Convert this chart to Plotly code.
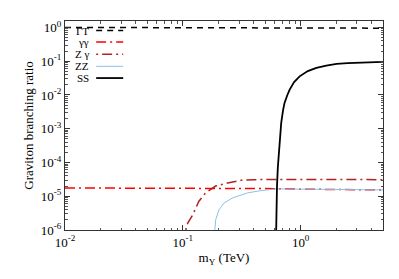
import plotly.graph_objects as go
import math

# ---- data ----
gt_x = [0.01, 0.1, 0.5, 1.0, 2.0, 5.0]
gt_y = [1.0, 1.0, 0.99, 0.97, 0.96, 0.95]

gg_x = [0.01, 0.1, 0.3, 0.6, 1.0, 2.0, 5.0]
gg_y = [1.76e-5, 1.76e-5, 1.74e-5, 1.68e-5, 1.62e-5, 1.58e-5, 1.54e-5]

zg_x = [0.106, 0.11, 0.12, 0.137, 0.156, 0.19, 0.24, 0.31, 0.4, 0.6, 1.0, 2.0, 5.0]
zg_y = [1e-6, 1.6e-6, 2.6e-6, 7.1e-6, 1.26e-5, 2.0e-5, 2.46e-5, 2.95e-5, 3.1e-5, 3.15e-5, 3.15e-5, 3.12e-5, 3.1e-5]

zz_x = [0.187, 0.19, 0.203, 0.224, 0.264, 0.355, 0.45, 0.62, 1.0, 2.0, 5.0]
zz_y = [1e-6, 2.0e-6, 4.0e-6, 6.3e-6, 8.9e-6, 1.26e-5, 1.45e-5, 1.65e-5, 1.62e-5, 1.58e-5, 1.54e-5]

ss_x = [0.62, 0.621, 0.63, 0.64, 0.66, 0.684, 0.71, 0.73, 0.77, 0.805, 0.88, 0.98, 1.15, 1.36, 1.65, 2.02, 2.5, 3.19, 4.0, 5.0]
ss_y = [1e-6, 5.6e-6, 2e-5, 7e-5, 4e-4, 1.48e-3, 3.6e-3, 5.8e-3, 9.8e-3, 0.0141, 0.024, 0.0355, 0.051, 0.063, 0.074, 0.083, 0.088, 0.092, 0.094, 0.096]

names = ["ΓT", "γγ", "Z γ", "ZZ", "SS"]
colors = ["black", "#ff0000", "#b22222", "#87c3e6", "black"]
dashes = ["6px,5px", "10px,4px,2px,4px", "2px,4px,10px,4px", "solid", "solid"]
widths = [1.5, 1.5, 1.5, 1.0, 1.8]

x_tickvals = [0.01, 0.1, 1.0]
x_ticktext = ["10<sup>-2</sup>", "10<sup>-1</sup>", "10<sup>0</sup>"]
y_tickvals = [1e-6, 1e-5, 1e-4, 1e-3, 1e-2, 1e-1, 1.0]
y_ticktext = ["10<sup>-6</sup>", "10<sup>-5</sup>", "10<sup>-4</sup>", "10<sup>-3</sup>",
              "10<sup>-2</sup>", "10<sup>-1</sup>", "10<sup>0</sup>"]
x_minor = [m * 10.0 ** e for e in (-2, -1, 0) for m in range(2, 10) if m * 10.0 ** e <= 5.0]
y_minor = [m * 10.0 ** e for e in range(-6, 0) for m in range(2, 10)]

series = [(gt_x, gt_y), (gg_x, gg_y), (zg_x, zg_y), (zz_x, zz_y), (ss_x, ss_y)]

fig = go.Figure()
for (xs, ys), n, c, d, w in zip(series, names, colors, dashes, widths):
    fig.add_trace(go.Scatter(x=xs, y=ys, mode="lines", name=n,
                             line=dict(color=c, dash=d, width=w), showlegend=False))

# manual legend (text on the left, sample line on the right)
leg_rows = [0.954, 0.900, 0.841, 0.783, 0.727]
for n, c, d, w, yy in zip(names, colors, dashes, widths, leg_rows):
    fig.add_annotation(x=0.083, y=yy, xref="paper", yref="paper", text=n,
                       showarrow=False, xanchor="right", yanchor="middle",
                       font=dict(family="Liberation Serif", size=11, color="black"))
    fig.add_shape(type="line", xref="paper", yref="paper", x0=0.098, x1=0.183,
                  y0=yy, y1=yy, line=dict(color=c, dash=d, width=w))

axis_common = dict(
    type="log", showgrid=False, zeroline=False, showline=True, linecolor="#333",
    linewidth=1, mirror="allticks", ticks="inside", ticklen=5, tickcolor="#333",
    tickfont=dict(family="Liberation Serif", size=13, color="black"),
)

fig.update_xaxes(range=[math.log10(0.01), math.log10(5.0)], tickvals=x_tickvals,
                 ticktext=x_ticktext,
                 minor=dict(ticks="inside", ticklen=2.5, tickcolor="#555", showgrid=False,
                            tickvals=x_minor),
                 title=dict(text="m<sub>Y</sub> (TeV)", standoff=4,
                            font=dict(family="Liberation Serif", size=13, color="black")),
                 **axis_common)
fig.update_yaxes(range=[-6, 0.19], tickvals=y_tickvals, ticktext=y_ticktext,
                 minor=dict(ticks="inside", ticklen=2.5, tickcolor="#555", showgrid=False,
                            tickvals=y_minor),
                 title=dict(text="Graviton branching ratio", standoff=4,
                            font=dict(family="Liberation Serif", size=13, color="black")),
                 **axis_common)

fig.update_layout(width=399, height=279, margin=dict(l=57, r=24, t=13, b=57),
                  plot_bgcolor="white", paper_bgcolor="white",
                  font=dict(family="Liberation Serif", color="black"))

fig.write_html("out.html")
